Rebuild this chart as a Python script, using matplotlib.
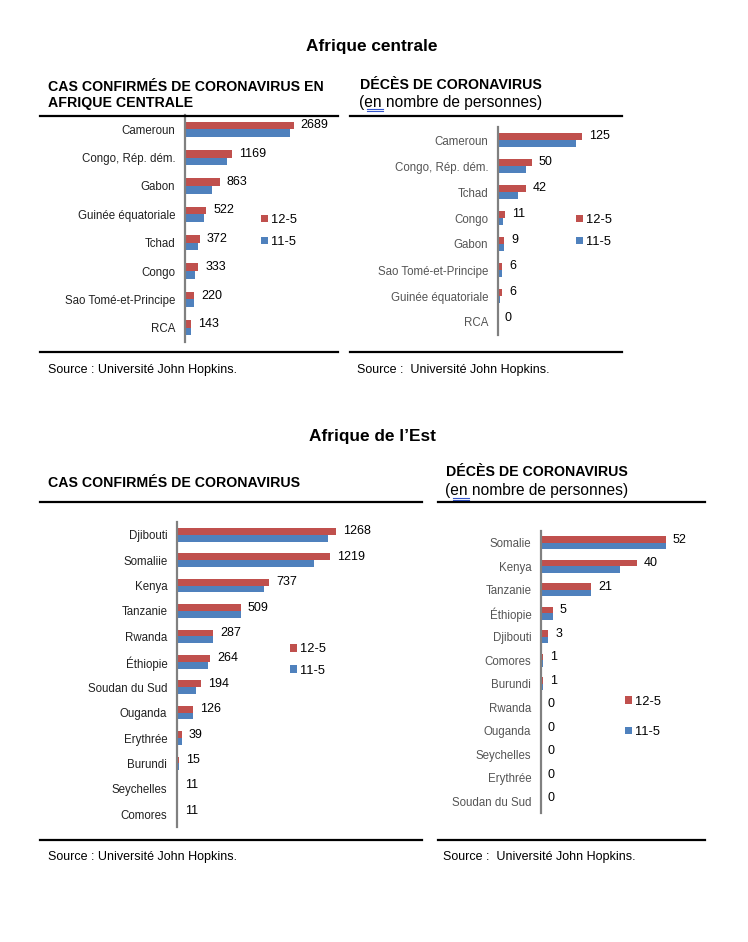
import numpy as np
import matplotlib
matplotlib.use("Agg")
import matplotlib.pyplot as plt
from matplotlib.lines import Line2D

plt.rcParams["font.family"] = ["Liberation Sans", "DejaVu Sans"]

W, H = 748, 942
RED = "#C0504D"
BLUE = "#4F81BD"

# Afrique centrale - cas confirmés
ac_cas_pays = ["Cameroun", "Congo, Rép. dém.", "Gabon", "Guinée équatoriale",
               "Tchad", "Congo", "Sao Tomé-et-Principe", "RCA"]
ac_cas_12 = [2689, 1169, 863, 522, 372, 333, 220, 143]
ac_cas_11 = [2590, 1026, 666, 472, 322, 244, 220, 143]

# Afrique centrale - décès
ac_dec_pays = ["Cameroun", "Congo, Rép. dém.", "Tchad", "Congo", "Gabon",
               "Sao Tomé-et-Principe", "Guinée équatoriale", "RCA"]
ac_dec_12 = [125, 50, 42, 11, 9, 6, 6, 0]
ac_dec_11 = [116, 41, 30, 8, 9, 6, 3, 0]

# Afrique de l'Est - cas confirmés
ae_cas_pays = ["Djibouti", "Somaliie", "Kenya", "Tanzanie", "Rwanda", "Éthiopie",
               "Soudan du Sud", "Ouganda", "Erythrée", "Burundi", "Seychelles",
               "Comores"]
ae_cas_12 = [1268, 1219, 737, 509, 287, 264, 194, 126, 39, 15, 11, 11]
ae_cas_11 = [1204, 1092, 690, 509, 287, 249, 148, 126, 39, 15, 11, 11]

# Afrique de l'Est - décès
ae_dec_pays = ["Somalie", "Kenya", "Tanzanie", "Éthiopie", "Djibouti", "Comores",
               "Burundi", "Rwanda", "Ouganda", "Seychelles", "Erythrée",
               "Soudan du Sud"]
ae_dec_12 = [52, 40, 21, 5, 3, 1, 1, 0, 0, 0, 0, 0]
ae_dec_11 = [52, 33, 21, 5, 3, 1, 1, 0, 0, 0, 0, 0]


def fx(x):
    return x / W


def fy(y):
    return 1 - y / H


def rect(left, top, bottom, width):
    return [fx(left), fy(bottom), width / W, (bottom - top) / H]


def bars(ax, pays, v12, v11, xmax, lab_color, leg_xy, leg_gap):
    y = np.arange(len(pays))
    h = 0.27
    ax.barh(y - h / 2, v12, height=h, color=RED, label="12-5")
    ax.barh(y + h / 2, v11, height=h, color=BLUE, label="11-5")
    ax.set_ylim(len(pays) - 0.5, -0.5)
    ax.set_xlim(0, xmax)
    ax.set_yticks(y)
    ax.set_yticklabels(pays, fontsize=8.3, color=lab_color)
    ax.tick_params(length=0, pad=7)
    ax.set_xticks([])
    for s in ("top", "right", "bottom"):
        ax.spines[s].set_visible(False)
    ax.spines["left"].set_color("#808080")
    ax.spines["left"].set_linewidth(1.6)
    for yi, v in zip(y, v12):
        ax.annotate(str(v), (v, yi - h / 2), xytext=(5, 0), textcoords="offset points",
                    va="center", ha="left", fontsize=9, color="black",
                    annotation_clip=False)
    ax.legend(loc="center left", bbox_to_anchor=(fx(leg_xy[0]), fy(leg_xy[1])),
              bbox_transform=ax.figure.transFigure, frameon=False, fontsize=9.3,
              handlelength=0.5, handleheight=0.5, handletextpad=0.25,
              labelspacing=leg_gap, borderpad=0)


def hline(fig, x0, x1, y, lw=1.6):
    fig.add_artist(Line2D([fx(x0), fx(x1)], [fy(y), fy(y)], color="black", lw=lw))


def squiggle(fig, x0, x1, y):
    for dy in (0, 2):
        fig.add_artist(Line2D([fx(x0), fx(x1)], [fy(y + dy), fy(y + dy)],
                              color="#3355cc", lw=0.8))


fig = plt.figure(figsize=(W / 100, H / 100), dpi=100)

# main titles
fig.text(fx(372), fy(47), "Afrique centrale", ha="center", va="center",
         fontsize=12.4, fontweight="bold")
fig.text(fx(372), fy(436), "Afrique de l\u2019Est", ha="center", va="center",
         fontsize=12.4, fontweight="bold")

# panel titles
fig.text(fx(48), fy(87), "CAS CONFIRMÉS DE CORONAVIRUS EN",
         ha="left", va="center", fontsize=10.2, fontweight="bold")
fig.text(fx(48), fy(103), "AFRIQUE CENTRALE",
         ha="left", va="center", fontsize=10.2, fontweight="bold")
fig.text(fx(360), fy(85), "DÉCÈS DE CORONAVIRUS", ha="left", va="center",
         fontsize=10.2, fontweight="bold")
fig.text(fx(359), fy(102), "(en nombre de personnes)", ha="left", va="center",
         fontsize=11.2)
squiggle(fig, 367, 383, 109)

fig.text(fx(48), fy(483), "CAS CONFIRMÉS DE CORONAVIRUS", ha="left", va="center",
         fontsize=10.2, fontweight="bold")
fig.text(fx(446), fy(472), "DÉCÈS DE CORONAVIRUS", ha="left", va="center",
         fontsize=10.2, fontweight="bold")
fig.text(fx(445), fy(491), "(en nombre de personnes)", ha="left", va="center",
         fontsize=11.2)
squiggle(fig, 453, 469, 498)

# rules
hline(fig, 40, 338, 116)
hline(fig, 40, 338, 352)
hline(fig, 350, 622, 116)
hline(fig, 350, 622, 352)
hline(fig, 40, 422, 502)
hline(fig, 40, 422, 840)
hline(fig, 438, 705, 502)
hline(fig, 438, 705, 840)

# sources
fig.text(fx(48), fy(370), "Source : Université John Hopkins.", ha="left",
         va="center", fontsize=9)
fig.text(fx(357), fy(370), "Source :  Université John Hopkins.", ha="left",
         va="center", fontsize=9)
fig.text(fx(48), fy(857), "Source : Université John Hopkins.", ha="left",
         va="center", fontsize=9)
fig.text(fx(443), fy(857), "Source :  Université John Hopkins.", ha="left",
         va="center", fontsize=9)

ax1 = fig.add_axes(rect(185, 115, 342, 150))
bars(ax1, ac_cas_pays, ac_cas_12, ac_cas_11, 24.7 * 150, "#222222", (255, 231), 0.75)

ax2 = fig.add_axes(rect(498, 127, 335, 120))
bars(ax2, ac_dec_pays, ac_dec_12, ac_dec_11, 1.49 * 120, "#555555", (570, 231), 0.75)

ax3 = fig.add_axes(rect(177, 522, 827, 240))
bars(ax3, ae_cas_pays, ae_cas_12, ae_cas_11, 7.97 * 240, "#222222", (284, 660), 0.7)

ax4 = fig.add_axes(rect(541, 531, 813, 160))
bars(ax4, ae_dec_pays, ae_dec_12, ae_dec_11, 0.416 * 160, "#555555", (619, 717), 1.45)

fig.savefig("out.png", dpi=100)
